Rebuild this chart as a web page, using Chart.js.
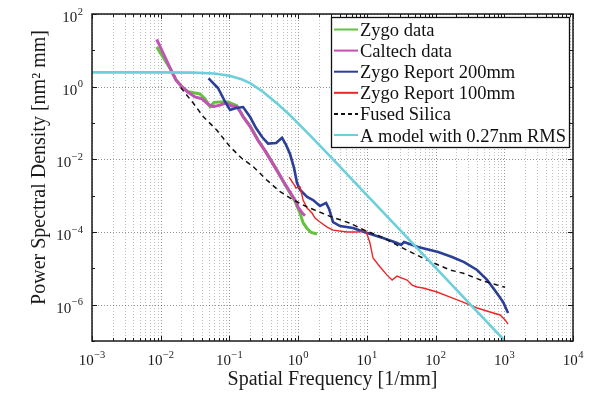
<!DOCTYPE html>
<html>
<head>
<meta charset="utf-8">
<script src="https://cdn.jsdelivr.net/npm/chart.js@4.4.0/dist/chart.umd.min.js"></script>
<style>
  html, body { margin: 0; padding: 0; background: #fff; }
</style>
</head>
<body>
<canvas id="psdChart" width="596" height="394"></canvas>
<script>
// --- data ---
const zygoFreq = [0.00875, 0.0141, 0.0167, 0.0204, 0.025, 0.0316, 0.0373, 0.0442, 0.0522, 0.0597, 0.073, 0.0955, 0.109, 0.128, 0.158, 0.2, 0.261, 0.341, 0.461, 0.645, 0.90, 1.07, 1.18, 1.35, 1.55, 1.88];
const zygoPsd  = [12.4, 2.9, 1.55, 1.0, 0.72, 0.67, 0.63, 0.46, 0.28, 0.37, 0.38, 0.38, 0.34, 0.30, 0.15, 0.083, 0.034, 0.0158, 0.0062, 0.002, 7e-4, 3.2e-4, 1.8e-4, 1.25e-4, 9.7e-5, 8.8e-5];

const caltechFreq = [0.00875, 0.0141, 0.0167, 0.0204, 0.025, 0.0316, 0.0398, 0.049, 0.0577, 0.0729, 0.089, 0.109, 0.125, 0.143, 0.158, 0.2, 0.261, 0.341, 0.461, 0.645, 0.93, 1.0, 1.15, 1.26];
const caltechPsd  = [20, 2.9, 1.5, 0.98, 0.70, 0.52, 0.46, 0.33, 0.28, 0.31, 0.355, 0.29, 0.29, 0.21, 0.15, 0.08, 0.033, 0.0155, 0.006, 0.0021, 6.8e-4, 4.8e-4, 3.3e-4, 2.8e-4];

const report200Freq = [0.0497, 0.0682, 0.0863, 0.102, 0.125, 0.158, 0.2, 0.244, 0.299, 0.365, 0.477, 0.583, 0.667, 0.762, 0.871, 0.964, 1.07, 1.35, 1.65, 2.08, 2.55, 2.82, 3.22, 4.07, 6.3, 10.1, 17.2, 27.5, 31.5, 34.8, 55.6, 109, 174, 260, 402, 562, 760, 962, 1135];
const report200Psd  = [1.70, 0.918, 0.385, 0.228, 0.259, 0.275, 0.146, 0.0728, 0.0411, 0.027, 0.028, 0.039, 0.025, 0.014, 0.0058, 0.00223, 0.00143, 9.2e-4, 7.6e-4, 5.2e-4, 6.3e-4, 4.3e-4, 1.88e-4, 1.46e-4, 1.29e-4, 9.4e-5, 6.8e-5, 4.97e-5, 4.38e-5, 5.3e-5, 3.86e-5, 2.81e-5, 2.05e-5, 1.49e-5, 9.0e-6, 4.8e-6, 2.23e-6, 1.18e-6, 5.9e-7];

const report100Freq = [0.738, 0.843, 0.931, 1.07, 1.18, 1.35, 1.59, 1.76, 2.08, 2.64, 3.22, 5.15, 7.2, 9.7, 11.1, 12.3, 15.6, 19.7, 23.3, 27.5, 32.5, 38.5, 45.5, 53.8, 65.8, 105, 163, 251, 402, 621, 869, 1028, 1135];
const report100Psd  = [0.00326, 0.00223, 0.00163, 0.00173, 7.6e-4, 4.57e-4, 3.33e-4, 2.43e-4, 1.88e-4, 1.37e-4, 1.13e-4, 1.0e-4, 1.0e-4, 1.06e-4, 4.97e-5, 1.92e-5, 1.09e-5, 6.5e-6, 4.77e-6, 6.1e-6, 5.4e-6, 4.77e-6, 3.47e-6, 3.06e-6, 2.87e-6, 2.23e-6, 1.62e-6, 1.18e-6, 8.1e-7, 6.3e-7, 5.2e-7, 3.8e-7, 2.93e-7];

const silicaFreq = [0.0195, 0.0299, 0.0417, 0.0653, 0.102, 0.151, 0.223, 0.349, 0.546, 0.851, 1.33, 2.91, 5.69, 8.9, 17.2, 27.2, 53.8, 83.2, 163, 254, 491, 1028];
const silicaPsd  = [0.95, 0.348, 0.149, 0.064, 0.0222, 0.0107, 0.00627, 0.0027, 0.00129, 7.6e-4, 4.97e-4, 2.7e-4, 1.75e-4, 1.15e-4, 7.0e-5, 4.4e-5, 2.3e-5, 1.55e-5, 9e-6, 7.3e-6, 4.5e-6, 3.0e-6];

const modelFreq = [0.001, 0.01, 0.03, 0.06, 0.1, 0.15, 0.2, 0.3, 0.5, 0.8, 1.5, 3, 10, 30, 100, 300, 1000];
const modelPsd  = [2.48, 2.48, 2.43, 2.3, 2.0, 1.6, 1.25, 0.75, 0.34, 0.15, 0.045, 0.0115, 0.00104, 1.16e-4, 1.04e-5, 1.16e-6, 1.05e-7];

const seriesLabels = ['Zygo data', 'Caltech data', 'Zygo Report 200mm', 'Zygo Report 100mm', 'Fused Silica', 'A model with 0.27nm RMS'];
const seriesColors = ['#63c33c', '#c252b4', '#2b3f98', '#ee2526', '#111111', '#6ccfdc'];

const xTickValues = [];
for (let e = -3; e <= 4; e++) {
  for (let m = 1; m <= 9; m++) {
    if (e === 4 && m > 1) break;
    xTickValues.push(m * Math.pow(10, e));
  }
}
const yTickValues = [1e-6, 1e-4, 1e-2, 1, 1e2];
const yMinorValues = [1e-7, 1e-5, 1e-3, 1e-1, 1e1];

const serif = "'Liberation Serif', 'DejaVu Serif', serif";

function decadeExp(v) {
  const e = Math.round(Math.log10(v));
  return Math.abs(v / Math.pow(10, e) - 1) > 1e-6 ? null : e;
}
const pairs = (xs, ys) => xs.map((x, i) => ({ x: x, y: ys[i] }));

// draws "10" with a raised exponent; (ax, baseY) is the anchor
function drawPow(ctx, e, ax, baseY, align) {
  const expStr = String(e).replace('-', '\u2212');
  ctx.font = '15px ' + serif;
  const w1 = ctx.measureText('10').width;
  ctx.font = '10.5px ' + serif;
  const w2 = ctx.measureText(expStr).width;
  const total = w1 + w2 + 0.5;
  const left = align === 'center' ? ax - total / 2 : ax - total;
  ctx.font = '15px ' + serif;
  ctx.fillText('10', left, baseY);
  ctx.font = '10.5px ' + serif;
  ctx.fillText(expStr, left + w1 + 0.5, baseY - 7.5);
}

// grid, ticks, frame, tick labels and legend like the MATLAB axes
const axesPlugin = {
  id: 'axesBox',
  beforeDatasetsDraw(chart) {
    const { ctx, chartArea: a, scales: { x, y } } = chart;
    ctx.save();
    ctx.lineWidth = 1;
    ctx.setLineDash([1, 2]);
    xTickValues.forEach(v => {
      const px = Math.round(x.getPixelForValue(v)) + 0.5;
      ctx.strokeStyle = decadeExp(v) !== null ? 'rgba(0,0,0,0.42)' : 'rgba(0,0,0,0.25)';
      ctx.beginPath(); ctx.moveTo(px, a.top); ctx.lineTo(px, a.bottom); ctx.stroke();
    });
    ctx.strokeStyle = 'rgba(0,0,0,0.42)';
    yTickValues.forEach(v => {
      const py = Math.round(y.getPixelForValue(v)) + 0.5;
      ctx.beginPath(); ctx.moveTo(a.left, py); ctx.lineTo(a.right, py); ctx.stroke();
    });
    ctx.restore();
  },
  afterDatasetsDraw(chart) {
    const { ctx, chartArea: a, scales: { x, y } } = chart;
    ctx.save();
    ctx.strokeStyle = '#1a1a1a';
    ctx.lineWidth = 1;
    xTickValues.forEach(v => {
      const px = Math.round(x.getPixelForValue(v)) + 0.5;
      const len = decadeExp(v) !== null ? 5 : 3;
      ctx.beginPath();
      ctx.moveTo(px, a.bottom); ctx.lineTo(px, a.bottom - len);
      ctx.moveTo(px, a.top); ctx.lineTo(px, a.top + len);
      ctx.stroke();
    });
    yTickValues.concat(yMinorValues).forEach(v => {
      const py = Math.round(y.getPixelForValue(v)) + 0.5;
      const len = yTickValues.includes(v) ? 5 : 3;
      ctx.beginPath();
      ctx.moveTo(a.left, py); ctx.lineTo(a.left + len, py);
      ctx.moveTo(a.right, py); ctx.lineTo(a.right - len, py);
      ctx.stroke();
    });
    ctx.lineWidth = 1.5;
    ctx.strokeRect(a.left, a.top, a.right - a.left, a.bottom - a.top);

    // tick labels
    ctx.fillStyle = '#1a1a1a';
    ctx.textBaseline = 'alphabetic';
    ctx.textAlign = 'left';
    xTickValues.forEach(v => {
      const e = decadeExp(v);
      if (e === null) return;
      drawPow(ctx, e, x.getPixelForValue(v), a.bottom + 24, 'center');
    });
    yTickValues.forEach(v => {
      drawPow(ctx, decadeExp(v), a.left - 9, y.getPixelForValue(v) + 8, 'right');
    });

    // legend box
    const lx = 331.5, ly = 17.5, lw = 238, lh = 130;
    ctx.fillStyle = '#fff';
    ctx.fillRect(lx, ly, lw, lh);
    ctx.lineWidth = 1.3;
    ctx.strokeStyle = '#111';
    ctx.strokeRect(lx, ly, lw, lh);
    ctx.font = '18.5px ' + serif;
    chart.data.datasets.forEach((ds, i) => {
      const rowY = 29.5 + i * 21.1;
      ctx.strokeStyle = ds.borderColor;
      ctx.lineWidth = 2;
      ctx.setLineDash(ds.borderDash && ds.borderDash.length ? [4, 3] : []);
      ctx.beginPath(); ctx.moveTo(334, rowY); ctx.lineTo(358, rowY); ctx.stroke();
      ctx.setLineDash([]);
      ctx.fillStyle = '#111';
      ctx.fillText(ds.label, 360, rowY + 6.5);
    });
    ctx.restore();
  }
};

const widths = [3, 3, 2.6, 1.4, 1.5, 2.6];
const dataSets = [
  pairs(zygoFreq, zygoPsd),
  pairs(caltechFreq, caltechPsd),
  pairs(report200Freq, report200Psd),
  pairs(report100Freq, report100Psd),
  pairs(silicaFreq, silicaPsd),
  pairs(modelFreq, modelPsd)
];

new Chart(document.getElementById('psdChart'), {
  type: 'line',
  data: {
    datasets: dataSets.map((d, i) => ({
      label: seriesLabels[i],
      data: d,
      borderColor: seriesColors[i],
      borderWidth: widths[i],
      borderDash: i === 4 ? [5, 4] : [],
      pointRadius: 0,
      tension: 0,
      fill: false,
      order: 6 - i
    }))
  },
  options: {
    responsive: false,
    animation: false,
    devicePixelRatio: 1,
    layout: { padding: { top: 14, right: 23, left: 0, bottom: 0 } },
    plugins: { legend: { display: false }, tooltip: { enabled: false } },
    scales: {
      x: {
        type: 'logarithmic',
        min: 1e-3,
        max: 1e4,
        afterBuildTicks: s => { s.ticks = xTickValues.map(v => ({ value: v })); },
        afterFit: s => { s.height = 53; },
        grid: { display: false, drawTicks: false },
        border: { display: false },
        ticks: { display: false },
        title: {
          display: true, text: 'Spatial Frequency [1/mm]', color: '#1a1a1a',
          font: { family: serif, size: 20 }, padding: { top: 0, bottom: 2 }
        }
      },
      y: {
        type: 'logarithmic',
        min: 1e-7,
        max: 1e2,
        afterBuildTicks: s => { s.ticks = yTickValues.map(v => ({ value: v })); },
        afterFit: s => { s.width = 92; },
        grid: { display: false, drawTicks: false },
        border: { display: false },
        ticks: { display: false },
        title: {
          display: true, text: '\u00A0\u00A0\u00A0\u00A0Power Spectral Density [nm\u00B2 mm]', color: '#1a1a1a',
          font: { family: serif, size: 20 }, padding: { top: 28, bottom: 0 }
        }
      }
    }
  },
  plugins: [axesPlugin]
});
</script>
</body>
</html>
